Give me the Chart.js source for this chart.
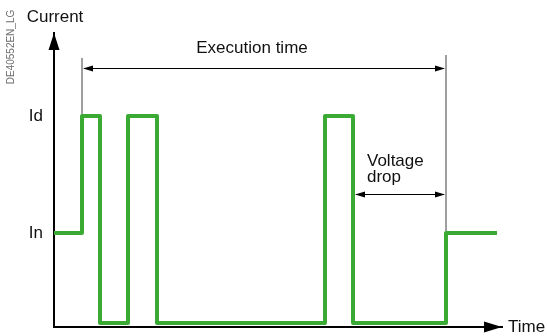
<!DOCTYPE html>
<html>
<head>
<meta charset="utf-8">
<script src="https://cdn.jsdelivr.net/npm/chart.js@4"></script>
<style>
  body { margin: 0; background: #fff; }
  #wrap { width: 547px; height: 336px; position: relative; }
</style>
</head>
<body>
<div id="wrap"><canvas id="currentChart"></canvas></div>
<script>
// time points where the current changes (arbitrary time units)
const times = [0, 28, 46, 74, 103, 271, 299, 392, 443]
// current level from each time point on
const current = [3.2, 7.18, 0.14, 7.18, 0.14, 7.18, 0.14, 3.2, 3.2]
// y tick levels and their labels
const levelValues = [3.2, 7.18]
const levelLabels = ['In', 'Id']

const green = 'rgb(58, 170, 53)'
const font = '"Liberation Sans", Arial, sans-serif'

function arrowHead(c, x, y, dir, len, half) {
    c.beginPath()
    if (dir === 'up') { c.moveTo(x, y); c.lineTo(x - half, y + len); c.lineTo(x + half, y + len) }
    if (dir === 'right') { c.moveTo(x, y); c.lineTo(x - len, y - half); c.lineTo(x - len, y + half) }
    if (dir === 'left') { c.moveTo(x, y); c.lineTo(x + len, y - half); c.lineTo(x + len, y + half) }
    c.closePath()
    c.fill()
}

const extras = {
    id: 'extras',
    afterDraw(chart) {
        const c = chart.ctx
        const xs = chart.scales.x, ys = chart.scales.y
        const area = chart.chartArea
        c.save()

        // axis arrow heads
        c.fillStyle = '#000'
        arrowHead(c, area.left, area.top, 'up', 17, 5.5)
        arrowHead(c, area.right, area.bottom, 'right', 18, 5.5)

        // gray guide lines
        const xStart = xs.getPixelForValue(times[1])
        const xEnd = xs.getPixelForValue(times[7])
        const xLast = xs.getPixelForValue(times[6])
        c.strokeStyle = 'rgb(128,128,128)'
        c.lineWidth = 1.5
        c.beginPath()
        c.moveTo(xStart, ys.getPixelForValue(9.15))
        c.lineTo(xStart, ys.getPixelForValue(current[1]) - 2)
        c.moveTo(xEnd, ys.getPixelForValue(9.25))
        c.lineTo(xEnd, ys.getPixelForValue(current[7]) - 2)
        c.stroke()

        // dimension arrows
        c.strokeStyle = '#000'
        c.fillStyle = '#000'
        c.lineWidth = 1
        const yExec = Math.round(ys.getPixelForValue(8.8)) + 0.5
        c.beginPath()
        c.moveTo(xStart + 2, yExec); c.lineTo(xEnd - 2, yExec)
        c.stroke()
        arrowHead(c, xStart + 1, yExec, 'left', 10, 3)
        arrowHead(c, xEnd - 1, yExec, 'right', 10, 3)

        const yDrop = Math.round(ys.getPixelForValue(4.52)) + 0.5
        c.beginPath()
        c.moveTo(xLast + 3, yDrop); c.lineTo(xEnd - 2, yDrop)
        c.stroke()
        arrowHead(c, xLast + 2, yDrop, 'left', 10, 3)
        arrowHead(c, xEnd - 1, yDrop, 'right', 10, 3)

        // texts
        c.fillStyle = '#111'
        c.font = '17px ' + font
        c.textBaseline = 'middle'
        c.textAlign = 'center'
        c.fillText('Execution time', (xStart + xEnd) / 2 - 12, yExec - 20)
        c.fillText('Current', area.left + 1, 17)
        c.textAlign = 'left'
        c.fillText('Voltage', xLast + 14, yDrop - 33)
        c.fillText('drop', xLast + 14, yDrop - 17)
        c.fillText('Time', area.right + 6, area.bottom)

        // reference code, rotated
        c.fillStyle = 'rgb(110,110,110)'
        c.font = '10px ' + font
        c.translate(11, 47)
        c.rotate(-Math.PI / 2)
        c.textAlign = 'center'
        c.fillText('DE40552EN_LG', 0, 0)
        c.restore()
    }
}

new Chart(document.getElementById('currentChart'), {
    type: 'line',
    data: {
        datasets: [{
            data: times.map((t, i) => ({ x: t, y: current[i] })),
            borderColor: green,
            borderWidth: 4,
            borderJoinStyle: 'round',
            stepped: true,
            pointRadius: 0,
            fill: false
        }]
    },
    options: {
        responsive: true,
        maintainAspectRatio: false,
        animation: false,
        layout: { padding: { top: 33, right: 45, left: 0, bottom: 0 } },
        plugins: { legend: { display: false }, tooltip: { enabled: false } },
        scales: {
            x: {
                type: 'linear', min: 0, max: 448,
                grid: { display: false, drawTicks: false },
                ticks: { display: false },
                border: { display: true, color: '#000', width: 2 },
                afterFit(scale) { scale.height = 9; scale.paddingLeft = 0; scale.paddingRight = 0 }
            },
            y: {
                min: 0, max: 10,
                grid: { display: false, drawTicks: false },
                border: { display: true, color: '#000', width: 2 },
                afterBuildTicks(scale) { scale.ticks = levelValues.map(v => ({ value: v })) },
                ticks: {
                    padding: 11,
                    color: '#111',
                    font: { family: font, size: 17 },
                    callback: (v) => levelLabels[levelValues.indexOf(v)]
                },
                afterFit(scale) { scale.width = 54; scale.paddingTop = 0; scale.paddingBottom = 0 }
            }
        }
    },
    plugins: [extras]
})
</script>
</body>
</html>
